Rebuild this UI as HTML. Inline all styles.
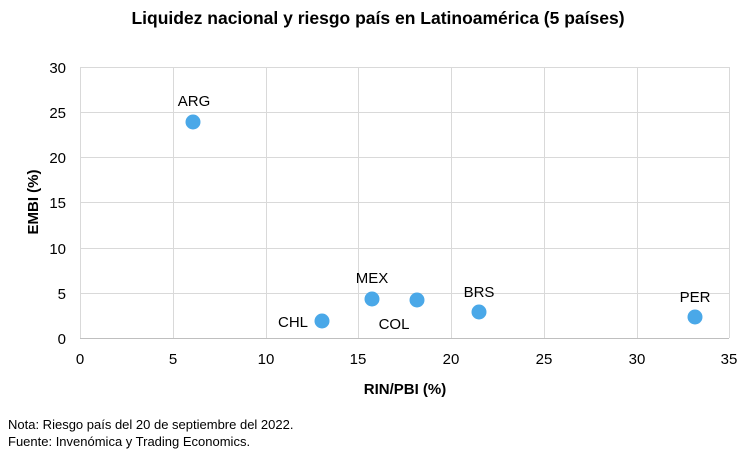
<!DOCTYPE html>
<html><head><meta charset="utf-8"><style>
body{margin:0;background:#fff;width:750px;height:457px;overflow:hidden}
svg{display:block;font-family:"Liberation Sans",sans-serif}
</style></head><body>
<svg width="750" height="457" viewBox="0 0 750 457">
<text x="378" y="24" text-anchor="middle" font-size="17.5" font-weight="bold" fill="#000">Liquidez nacional y riesgo país en Latinoamérica (5 países)</text>
<g stroke="#d9d9d9" stroke-width="1">
<line x1="80" y1="67.5" x2="729" y2="67.5"/><line x1="80" y1="112.5" x2="729" y2="112.5"/><line x1="80" y1="157.5" x2="729" y2="157.5"/><line x1="80" y1="202.5" x2="729" y2="202.5"/><line x1="80" y1="248.5" x2="729" y2="248.5"/><line x1="80" y1="293.5" x2="729" y2="293.5"/>
<line x1="80.5" y1="67" x2="80.5" y2="338"/><line x1="173.5" y1="67" x2="173.5" y2="338"/><line x1="266.5" y1="67" x2="266.5" y2="338"/><line x1="358.5" y1="67" x2="358.5" y2="338"/><line x1="451.5" y1="67" x2="451.5" y2="338"/><line x1="544.5" y1="67" x2="544.5" y2="338"/><line x1="637.5" y1="67" x2="637.5" y2="338"/><line x1="729.5" y1="67" x2="729.5" y2="338"/>
</g>
<line x1="80" y1="338.5" x2="729" y2="338.5" stroke="#bfbfbf"/>
<g font-size="15" fill="#000" text-anchor="end">
<text x="66" y="73">30</text><text x="66" y="118">25</text><text x="66" y="163">20</text><text x="66" y="208">15</text><text x="66" y="254">10</text><text x="66" y="299">5</text><text x="66" y="344">0</text>
</g>
<g font-size="15" fill="#000" text-anchor="middle">
<text x="80" y="364">0</text><text x="173" y="364">5</text><text x="266" y="364">10</text><text x="358" y="364">15</text><text x="451" y="364">20</text><text x="544" y="364">25</text><text x="637" y="364">30</text><text x="729" y="364">35</text>
</g>
<text x="405" y="394" text-anchor="middle" font-size="15" font-weight="bold">RIN/PBI (%)</text>
<text transform="translate(38,202) rotate(-90)" text-anchor="middle" font-size="15" font-weight="bold">EMBI (%)</text>
<g fill="#4aa8e8">
<circle cx="193" cy="122" r="7.5"/><circle cx="322" cy="321" r="7.5"/><circle cx="372" cy="299" r="7.5"/><circle cx="417" cy="300" r="7.5"/><circle cx="479" cy="312" r="7.5"/><circle cx="695" cy="317" r="7.5"/>
</g>
<g font-size="15" fill="#000" text-anchor="middle">
<text x="194" y="106">ARG</text><text x="372" y="283">MEX</text><text x="293" y="327">CHL</text><text x="394" y="329">COL</text><text x="479" y="297">BRS</text><text x="695" y="302">PER</text>
</g>
<text x="8" y="429" font-size="13">Nota: Riesgo país del 20 de septiembre del 2022.</text>
<text x="8" y="446" font-size="13">Fuente: Invenómica y Trading Economics.</text>
</svg>
</body></html>
